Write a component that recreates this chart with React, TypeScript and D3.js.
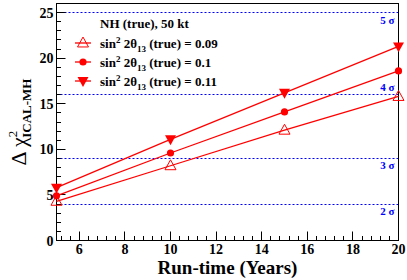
import React from 'react';
import * as d3 from 'd3';

const WIDTH = 407;
const HEIGHT = 280;

// run-time in years
const years = [5, 10, 15, 20];
const chi09 = [4.3, 8.2, 12.1, 15.8];
const chi10 = [4.9, 9.6, 14.1, 18.6];
const chi11 = [5.8, 11.1, 16.2, 21.3];

const sigmaLevels = [4, 9, 16, 25];
const sigmaLabels = ['2', '3', '4', '5'];

const xTicks = [6, 8, 10, 12, 14, 16, 18, 20];
const yTicks = [0, 5, 10, 15, 20, 25];

const legendLabels = ['0.09', '0.1', '0.11'];

const FONT = '"Liberation Serif", "Times New Roman", serif';
const RED = '#ff0000';
const BLUE = '#0000ff';

const App = () => {
  const xScale = d3.scaleLinear().domain([5, 20]).range([56.5, 398.5]);
  const yScale = d3.scaleLinear().domain([0, 26]).range([240.5, 3.5]);

  const line = d3
    .line<number>()
    .x((_, i) => xScale(years[i]))
    .y((d) => yScale(d));

  const x0 = xScale(5);
  const x1 = xScale(20);
  const y0 = yScale(0);
  const y1 = yScale(26);
  const crisp = (v: number) => Math.round(v - 0.5) + 0.5;

  // minor ticks
  const xMinor = d3.range(5.2, 20.01, 0.4).filter((v) => Math.abs(v / 2 - Math.round(v / 2)) > 0.01);
  const yMinor = d3.range(1, 26, 1).filter((v) => v % 5 !== 0);

  const tri = (cx: number, cy: number, s: number, up: boolean) => {
    const h = s * 0.9;
    return up
      ? `M${cx},${cy - h * 0.6}L${cx + s / 2},${cy + h * 0.4}L${cx - s / 2},${cy + h * 0.4}Z`
      : `M${cx},${cy + h * 0.6}L${cx + s / 2},${cy - h * 0.4}L${cx - s / 2},${cy - h * 0.4}Z`;
  };

  const marker = (kind: number, cx: number, cy: number, key: string) => {
    if (kind === 0) {
      return <path key={key} d={tri(cx, cy, 11, true)} fill="none" stroke={RED} strokeWidth={1} />;
    }
    if (kind === 1) {
      return <circle key={key} cx={cx} cy={cy} r={3.6} fill={RED} />;
    }
    return <path key={key} d={tri(cx, cy, 11, false)} fill={RED} />;
  };

  const series = [chi09, chi10, chi11];

  return (
    <svg
      width={WIDTH}
      height={HEIGHT}
      style={{ position: 'absolute', left: 0, top: 0, background: '#fff' }}
      fontFamily={FONT}
    >
      <rect x={0} y={0} width={WIDTH} height={HEIGHT} fill="#fff" />

      {/* sigma lines */}
      {sigmaLevels.map((v, i) => (
        <g key={`s-${i}`}>
          <line
            x1={x0}
            x2={x1}
            y1={crisp(yScale(v))}
            y2={crisp(yScale(v))}
            stroke={BLUE}
            strokeWidth={1}
            strokeDasharray="2,2"
          />
          <text
            x={x1 - 4}
            y={v === 16 ? yScale(v) - 4 : yScale(v) + 11}
            textAnchor="end"
            fill={BLUE}
            fontSize={11}
            fontWeight="bold"
          >
            {sigmaLabels[i]} σ
          </text>
        </g>
      ))}

      {/* frame */}
      <rect x={x0} y={y1} width={x1 - x0} height={y0 - y1} fill="none" stroke="#000" strokeWidth={1} />

      {/* x ticks */}
      {xTicks.map((t) => (
        <line key={`xt-${t}`} x1={crisp(xScale(t))} x2={crisp(xScale(t))} y1={y0} y2={y0 - 9} stroke="#000" />
      ))}
      {xMinor.map((t) => (
        <line key={`xm-${t}`} x1={crisp(xScale(t))} x2={crisp(xScale(t))} y1={y0} y2={y0 - 4.5} stroke="#000" />
      ))}
      {xTicks.map((t) => (
        <text
          key={`xl-${t}`}
          x={xScale(t)}
          y={y0 + 13}
          textAnchor="middle"
          fontSize={14}
          fontWeight="bold"
        >
          {t}
        </text>
      ))}

      {/* y ticks */}
      {yTicks.map((t) => (
        <line key={`yt-${t}`} x1={x0} x2={x0 + 9} y1={crisp(yScale(t))} y2={crisp(yScale(t))} stroke="#000" />
      ))}
      {yMinor.map((t) => (
        <line key={`ym-${t}`} x1={x0} x2={x0 + 4.5} y1={crisp(yScale(t))} y2={crisp(yScale(t))} stroke="#000" />
      ))}
      {yTicks.map((t) => (
        <text
          key={`yl-${t}`}
          x={x0 - 3}
          y={yScale(t) + 5}
          textAnchor="end"
          fontSize={14}
          fontWeight="bold"
        >
          {t}
        </text>
      ))}

      {/* series */}
      {series.map((s, i) => (
        <g key={`ser-${i}`}>
          <path d={line(s) || ''} fill="none" stroke={RED} strokeWidth={1.3} />
          {s.map((v, j) => marker(i, xScale(years[j]), yScale(v), `m-${i}-${j}`))}
        </g>
      ))}

      {/* legend */}
      <text x={100} y={28} fontSize={13} fontWeight="bold">
        NH (true), 50 kt
      </text>
      {legendLabels.map((lab, i) => {
        const ly = 43 + i * 19;
        return (
          <g key={`lg-${i}`}>
            <line x1={75} x2={91} y1={ly} y2={ly} stroke={RED} strokeWidth={1.3} />
            {marker(i, 83, ly, `lm-${i}`)}
            <text x={100} y={ly + 5} fontSize={13} fontWeight="bold">
              sin
              <tspan dy={-5} fontSize={9}>
                2
              </tspan>
              <tspan dy={5}> 2θ</tspan>
              <tspan dy={4} fontSize={9}>
                13
              </tspan>
              <tspan dy={-4}> (true) = {lab}</tspan>
            </text>
          </g>
        );
      })}

      {/* axis titles */}
      <text
        x={(x0 + x1) / 2}
        y={274}
        textAnchor="middle"
        fontSize={19}
        fontWeight="bold"
      >
        Run-time (Years)
      </text>
      <text
        transform={`translate(26, ${(y0 + y1) / 2}) rotate(-90)`}
        textAnchor="middle"
        fontSize={22}
      >
        Δ χ
        <tspan dy={-9} fontSize={13}>
          2
        </tspan>
        <tspan dx={-7} dy={14} fontSize={13} fontWeight="bold">
          ICAL-MH
        </tspan>
      </text>
    </svg>
  );
};

export default App;
